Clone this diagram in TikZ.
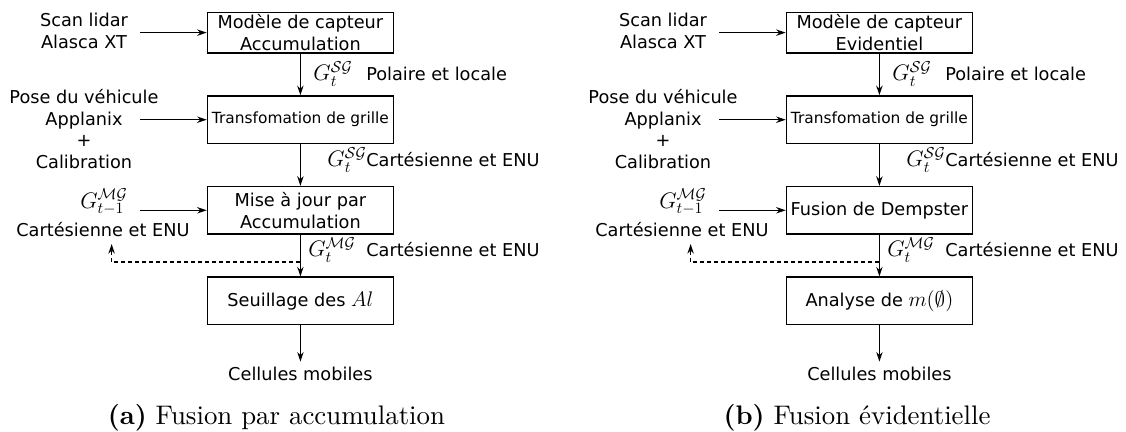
\RequirePackage{fix-cm}
\documentclass[tikz,border=0pt]{standalone}
\usepackage{fontspec}
\newfontfamily\dejavu{DejaVu Sans}
\newfontfamily\capfont{lmroman10-regular}[Extension=.otf,BoldFont=lmroman10-bold]
\usepackage{tikz}
\usetikzlibrary{
  arrows.meta,
  positioning
}

\begin{document}
\begin{tikzpicture}[
  >={Stealth[length=0.24cm,width=0.16cm]},
  txt/.style={font=\dejavu\fontsize{12.6}{15.5}\selectfont},
  bloc/.style={
    draw, line width=1pt, minimum width=4.65cm, minimum height=1.19cm,
    inner sep=0pt, align=center, txt
  },
  arr/.style={->, line width=0.9pt},
  fbk/.style={->, line width=0.9pt, dash pattern=on 0.1cm off 0.075cm},
  inp/.style={txt, align=center, inner sep=0pt},
  glbl/.style={font=\fontsize{16}{19}\selectfont, inner sep=0pt, anchor=base west},
  tlbl/.style={txt, inner sep=0pt, anchor=base west},
  capt/.style={font=\capfont\fontsize{19.1}{22}\selectfont}
]

\useasboundingbox (0,0) rectangle (28.15,10.8);

% (a) Fusion par accumulation
\node[bloc, minimum height=1.015cm, anchor=north] (capA) at (7.51,10.51) {Modèle de capteur\\Accumulation};
\node[bloc, below=1.04cm of capA, font=\dejavu\fontsize{10.95}{13}\selectfont] (trfA) {Transfomation de grille};
\node[bloc, below=1.04cm of trfA] (majA) {Mise à jour par\\Accumulation};
\node[bloc, below=1.04cm of majA] (seuA) {Seuillage des {\fontsize{15}{18}\selectfont$Al$}};
\node[txt, below=0.905cm of seuA] (celA) {Cellules mobiles};

% Inputs
\node[inp] (scanA) at (2.1,10.025) {Scan lidar\\Alasca XT};
\node[inp] (poseA) at (2.1,7.575) {Pose du véhicule\\Applanix\\+\\Calibration};
\node[glbl, anchor=base] (gprevA) at (2.6,5.58) {$G_{t-1}^{\mathcal{MG}}$};
\node[inp] (cartA) at (2.575,5.05) {Cartésienne et ENU};
\coordinate (inA) at (3.5,0);
\coordinate (upA) at (2.79,4.7);

\draw[arr] (inA |- capA.west) -- (capA.west);
\draw[arr] (inA |- trfA.west) -- (trfA.west);
\draw[arr] (inA |- majA.west) -- (majA.west);
\draw[arr] (capA) -- (trfA);
\draw[arr] (trfA) -- (majA);
\draw[arr] (majA) -- (seuA);
\draw[arr] (seuA) -- (celA);
\draw[fbk] ([yshift=-0.68cm]majA.south) -| (upA);

% Grid labels
\node[glbl] (g1A) at (7.83,8.78) {$G_t^{\mathcal{SG}}$};
\node[tlbl] (t1A) at (9.15,8.78) {Polaire et locale};
\node[glbl] (g2A) at (8.18,6.625) {$G_t^{\mathcal{SG}}$};
\node[tlbl] (t2A) at (9.15,6.625) {Cartésienne et ENU};
\node[glbl] (g3A) at (7.70,4.38) {$G_t^{\mathcal{MG}}$};
\node[tlbl] (t3A) at (9.15,4.38) {Cartésienne et ENU};

\node[capt] (legA) at (6.91,0.35) {\textbf{(a)} Fusion par accumulation};

% (b) Fusion evidentielle
\begin{scope}[xshift=14.475cm]
\node[bloc, minimum height=1.015cm, anchor=north] (capB) at (7.51,10.51) {Modèle de capteur\\Evidentiel};
\node[bloc, below=1.04cm of capB, font=\dejavu\fontsize{10.95}{13}\selectfont] (trfB) {Transfomation de grille};
\node[bloc, below=1.04cm of trfB] (majB) {Fusion de Dempster};
\node[bloc, below=1.04cm of majB] (seuB) {Analyse de {\fontsize{15}{18}\selectfont$m(\emptyset)$}};
\node[txt, below=0.905cm of seuB] (celB) {Cellules mobiles};

% Inputs
\node[inp] (scanB) at (2.1,10.025) {Scan lidar\\Alasca XT};
\node[inp] (poseB) at (2.1,7.575) {Pose du véhicule\\Applanix\\+\\Calibration};
\node[glbl, anchor=base] (gprevB) at (2.6,5.58) {$G_{t-1}^{\mathcal{MG}}$};
\node[inp] (cartB) at (2.575,5.05) {Cartésienne et ENU};
\coordinate (inB) at (3.5,0);
\coordinate (upB) at (2.79,4.7);

\draw[arr] (inB |- capB.west) -- (capB.west);
\draw[arr] (inB |- trfB.west) -- (trfB.west);
\draw[arr] (inB |- majB.west) -- (majB.west);
\draw[arr] (capB) -- (trfB);
\draw[arr] (trfB) -- (majB);
\draw[arr] (majB) -- (seuB);
\draw[arr] (seuB) -- (celB);
\draw[fbk] ([yshift=-0.68cm]majB.south) -| (upB);

% Grid labels
\node[glbl] (g1B) at (7.83,8.78) {$G_t^{\mathcal{SG}}$};
\node[tlbl] (t1B) at (9.15,8.78) {Polaire et locale};
\node[glbl] (g2B) at (8.18,6.625) {$G_t^{\mathcal{SG}}$};
\node[tlbl] (t2B) at (9.15,6.625) {Cartésienne et ENU};
\node[glbl] (g3B) at (7.70,4.38) {$G_t^{\mathcal{MG}}$};
\node[tlbl] (t3B) at (9.15,4.38) {Cartésienne et ENU};

\node[capt] (legB) at (6.95,0.35) {\textbf{(b)} Fusion évidentielle};
\end{scope}

\end{tikzpicture}
\end{document}
